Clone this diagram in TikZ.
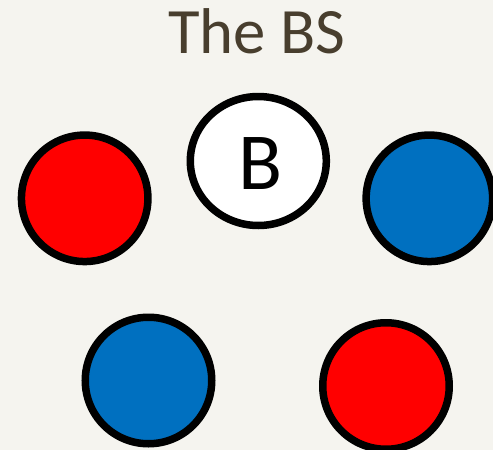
\documentclass[tikz,border=0pt]{standalone}
\usepackage{fontspec}
\setmainfont{Carlito}
\usetikzlibrary{shapes.geometric}
\definecolor{bg}{HTML}{F5F4EF}
\definecolor{titlec}{HTML}{483E2E}
\definecolor{myblue}{HTML}{0070C0}
\definecolor{myred}{HTML}{FF0000}
\begin{document}
\begin{tikzpicture}[x=1pt,y=-1pt,
  ball/.style={circle,draw=black,line width=7.5pt,minimum size=126.5pt,inner sep=0pt}]
\useasboundingbox (0,0) rectangle (493,450);
\fill[bg] (0,0) rectangle (493,450);
\node[text=titlec,font=\fontsize{64.7}{70}\selectfont,anchor=base] (title) at (257,53.3) {The BS};
\node[ellipse,draw=black,fill=white,line width=7.5pt,minimum width=136pt,minimum height=129pt,inner sep=0pt] (b) at (258.3,161) {};
\node[font=\fontsize{81}{90}\selectfont,anchor=base] (blabel) at (260.5,189) {B};
\node[ball,fill=myred] (r1) at (84.7,198.3) {};
\node[ball,fill=myblue] (b1) at (429.4,198.3) {};
\node[ball,fill=myblue] (b2) at (148.5,380.5) {};
\node[ball,fill=myred] (r2) at (386,386) {};
\end{tikzpicture}
\end{document}
